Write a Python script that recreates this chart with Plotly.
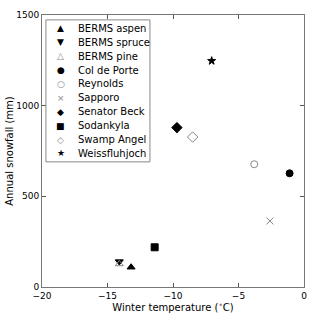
import plotly.graph_objects as go

sites = ["BERMS aspen", "BERMS spruce", "BERMS pine", "Col de Porte", "Reynolds",
         "Sapporo", "Senator Beck", "Sodankyla", "Swamp Angel", "Weissfluhjoch"]
temps = [-13.2, -14.1, -14.1, -1.1, -3.8, -2.6, -9.7, -11.4, -8.5, -7.05]
snow = [109, 140, 127, 627, 677, 364, 879, 219, 827, 1247]
symbols = ["triangle-up", "triangle-down", "triangle-up-open", "circle", "circle-open",
           "x-thin-open", "diamond", "square", "diamond-open", "star"]
legend_glyphs = ["\u25b2", "\u25bc", "\u25b3", "\u25cf", "\u25cb",
                 "\u00d7", "\u25c6", "\u25a0", "\u25c7", "\u2605"]
colors = ["black", "black", "#888888", "black", "#888888",
          "#888888", "black", "black", "#888888", "black"]
sizes = [7, 7, 7, 7, 7, 7, 8, 7, 8, 6]

fig = go.Figure()
for s, t, v, sym, c, sz in zip(sites, temps, snow, symbols, colors, sizes):
    fig.add_trace(go.Scatter(
        x=[t], y=[v], mode="markers", name=s, showlegend=False,
        marker=dict(symbol=sym, color=c, size=sz,
                    line=dict(color=c, width=1)),
    ))

# legend box drawn as layout decoration
fig.add_shape(type="rect", xref="paper", yref="paper",
              x0=0.015, x1=0.412, y0=0.46, y1=0.982,
              line=dict(color="#888888", width=1), fillcolor="white", layer="above")
row_top = 0.951
row_step = 13.9 / 272
for i, (s, g, c) in enumerate(zip(sites, legend_glyphs, colors)):
    yy = row_top - i * row_step
    fig.add_annotation(x=0.072, y=yy, xref="paper", yref="paper", text=g,
                       showarrow=False, xanchor="center", yanchor="middle",
                       font=dict(family="DejaVu Sans", size=9, color=c))
    fig.add_annotation(x=0.13, y=yy, xref="paper", yref="paper", text=s,
                       showarrow=False, xanchor="left", yanchor="middle",
                       font=dict(family="DejaVu Sans", size=10, color="black"))

axis_common = dict(showgrid=False, zeroline=False, ticks="inside", ticklen=4,
                   tickcolor="#555555", linecolor="#777777", linewidth=1,
                   mirror="ticks", showline=True, automargin=False,
                   tickfont=dict(family="DejaVu Sans", size=9, color="black"))

fig.update_layout(
    width=320, height=320,
    margin=dict(l=42, r=16, t=15, b=33),
    paper_bgcolor="white", plot_bgcolor="white",
    font=dict(family="DejaVu Sans", size=10, color="black"),
    xaxis=dict(range=[-20, 0], tickvals=[-20, -15, -10, -5, 0],
               ticktext=["\u221220", "\u221215", "\u221210", "\u22125", "0"],
               title=dict(text="Winter temperature (<sup>\u2218</sup>C)",
                          font=dict(size=10), standoff=0),
               **axis_common),
    yaxis=dict(range=[0, 1500], tickvals=[0, 500, 1000, 1500],
               title=dict(text="Annual snowfall (mm)", font=dict(size=10), standoff=0),
               **axis_common),
    showlegend=False,
)

fig.write_html("out.html", config={"displayModeBar": False},
               post_script="document.body.style.margin='0';")
